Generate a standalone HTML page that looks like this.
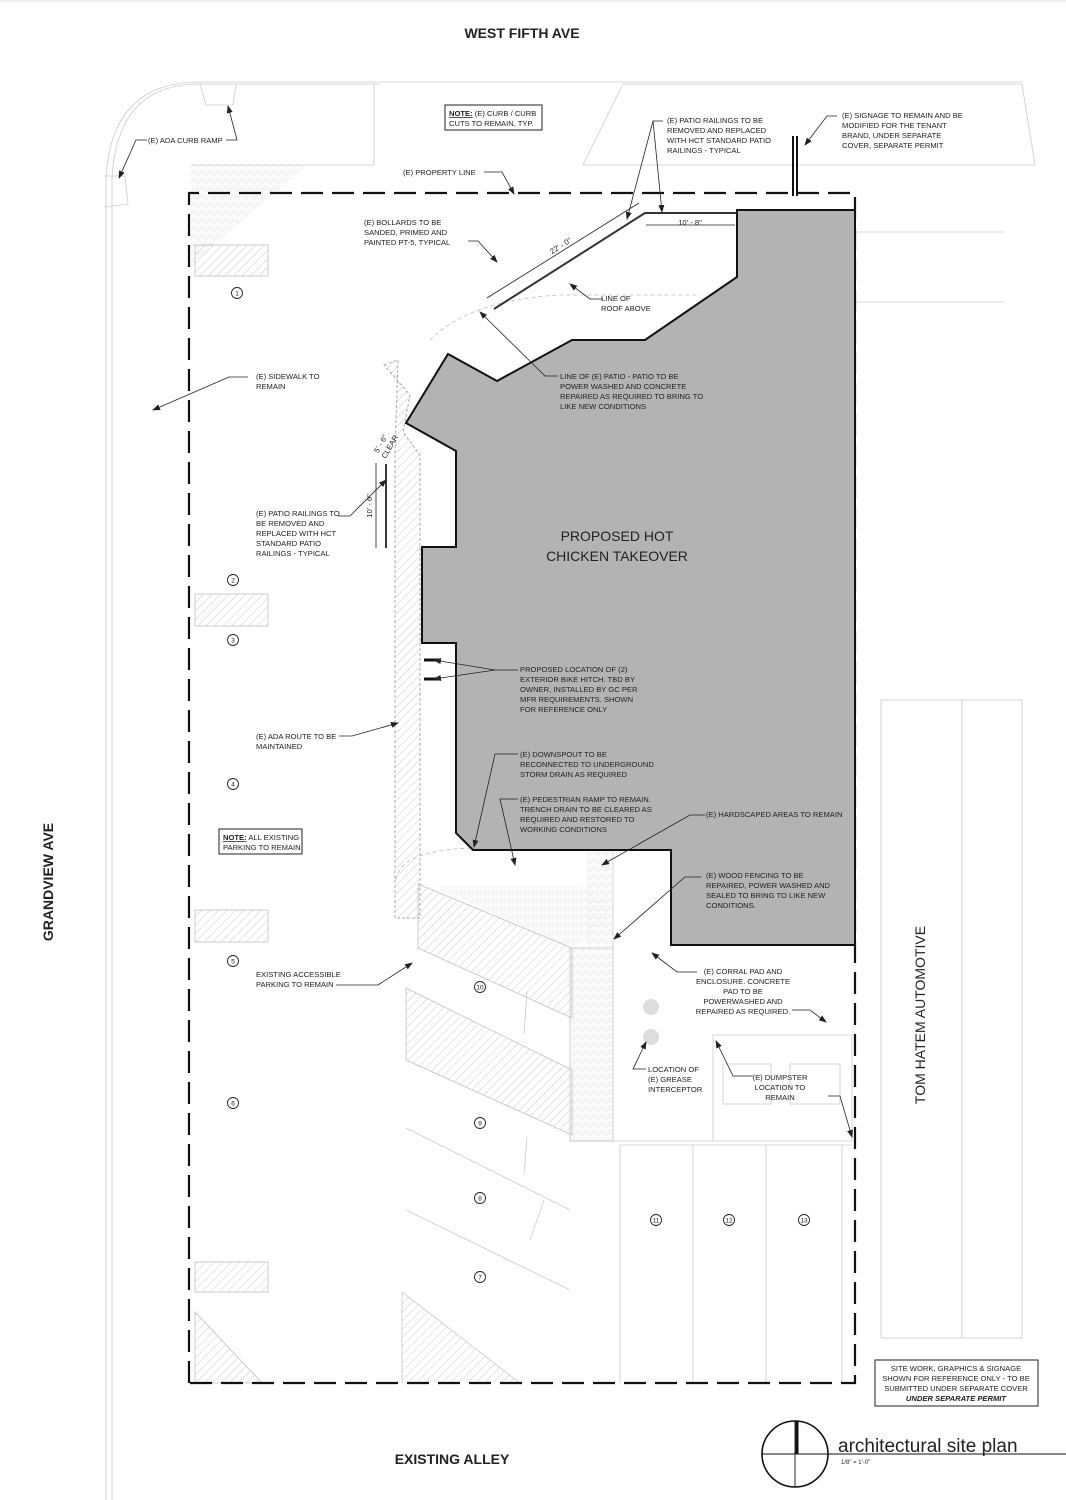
<!DOCTYPE html>
<html><head><meta charset="utf-8"><style>
html,body{margin:0;padding:0;background:#fff}
svg{display:block}
text{font-family:"Liberation Sans",sans-serif;fill:#222}
.s{font-size:7.6px}
.l{stroke:#222;stroke-width:0.8;fill:none}
.g{stroke:#ccc;stroke-width:0.8;fill:none}
.gd{stroke:#bbb;stroke-width:0.8;fill:none;stroke-dasharray:4 3}
.bg{fill:#fff}
</style></head><body>
<svg width="1066" height="1500" viewBox="0 0 1066 1500" xmlns="http://www.w3.org/2000/svg">
<defs>
<pattern id="h" width="6" height="6" patternUnits="userSpaceOnUse" patternTransform="rotate(45)"><line x1="0" y1="0" x2="0" y2="6" stroke="#bbb" stroke-width="0.8"/></pattern>
<pattern id="b" width="8" height="8" patternUnits="userSpaceOnUse"><path d="M0 2H4M0 4H4M0 6H4M6 0V4M5 4V8M7 4V8M4 0V0" stroke="#ddd" stroke-width="0.6"/></pattern>
<marker id="a" markerWidth="8" markerHeight="6" refX="7" refY="3" orient="auto" markerUnits="userSpaceOnUse"><path d="M0 0L8 3L0 6z" fill="#222"/></marker>
</defs>
<line x1="0" y1="1" x2="1066" y2="1" stroke="#ddd"/>
<text x="522" y="38" font-size="14" font-weight="bold" text-anchor="middle">WEST FIFTH AVE</text>
<text x="452" y="1464" font-size="14" font-weight="bold" text-anchor="middle">EXISTING ALLEY</text>
<text transform="translate(53,882) rotate(-90)" font-size="14" font-weight="bold" text-anchor="middle">GRANDVIEW AVE</text>
<text transform="translate(925,1015) rotate(-90)" font-size="14" text-anchor="middle">TOM HATEM AUTOMOTIVE</text>

<!-- streets / curbs -->
<path class="g" d="M1022 82H200Q110 82 106 180V1500"/>
<path class="g" d="M380 84H200Q116 84 112 180V1500"/>
<path class="g" d="M200 84L206 105H233L236 84"/>
<path class="g" d="M104 176H125L128 204L104 207"/>
<path class="g" d="M374 84V165H191"/>
<path class="g" d="M583 165L623 84H1022L1035 165Z"/>
<line class="g" x1="855" y1="232" x2="1004" y2="232"/>
<line class="g" x1="855" y1="302" x2="1004" y2="302"/>
<rect class="g" x="881" y="700" width="81" height="638"/>
<rect class="g" x="962" y="700" width="60" height="638"/>
<path fill="url(#b)" d="M191 165H307L191 265Z"/>
<!-- left stalls -->
<rect x="195" y="245" width="73" height="31" fill="url(#h)" stroke="#ccc"/>
<rect x="195" y="594" width="73" height="32" fill="url(#h)" stroke="#ccc"/>
<rect x="195" y="910" width="73" height="32" fill="url(#h)" stroke="#ccc"/>
<rect x="195" y="1262" width="73" height="30" fill="url(#h)" stroke="#ccc"/>
<path fill="url(#h)" stroke="#ccc" d="M195 1312L262 1383H195Z"/>
<!-- angled stalls -->
<path fill="url(#h)" stroke="#ccc" d="M418 884L572 948V1018L418 948Z"/>
<path fill="url(#h)" stroke="#ccc" d="M406 988L572 1070V1135L406 1060Z"/>
<path class="g" d="M406 1128L570 1210M406 1210L570 1290M402 1292L520 1383M402 1292V1383"/>
<path fill="url(#h)" d="M402 1292L520 1383H402Z"/>
<path class="g" d="M527 992L524 1034M527 1137L524 1175M544 1200L530 1240"/>
<!-- pavers -->
<rect x="570" y="948" width="43" height="193" fill="url(#b)" stroke="#ccc"/>
<rect x="586" y="850" width="27" height="98" fill="url(#b)"/>
<path fill="url(#b)" d="M438 886H580L610 905V915L575 948L438 890Z" opacity=".8"/>
<!-- ADA route hatch -->
<path fill="url(#h)" stroke="#aaa" stroke-dasharray="3 2" d="M384 365L398 360L395 450V918H420V455L403 432L410 395Z"/>
<path class="gd" d="M396 880Q400 850 472 848M430 340Q470 300 560 295H700"/>
<!-- corral -->
<path class="g" d="M613 850V1141H713V1035H852V1141H613"/>
<path class="g" d="M620 1145H852M620 1145V1383M693 1145V1383M766 1145V1383M842 1145V1383"/>
<circle cx="651" cy="1007" r="8" fill="#ddd"/><circle cx="651" cy="1037" r="8" fill="#ddd"/>
<rect class="g" x="723" y="1064" width="48" height="40"/><rect class="g" x="790" y="1064" width="50" height="40"/>
<!-- property line -->
<path d="M189 1383V193H855V1383H189" fill="none" stroke="#111" stroke-width="2.2" stroke-dasharray="22 9"/>
<!-- building -->
<path d="M737 210H855V945H671V850H473L456 833V643H422V547H456V451L406 423L448 354L497 381L572 340H645L737 277Z" fill="#b3b3b3" stroke="#111" stroke-width="2"/>
<text x="617" y="541" font-size="14" text-anchor="middle">PROPOSED HOT</text>
<text x="617" y="561" font-size="14" text-anchor="middle">CHICKEN TAKEOVER</text>
<!-- railings -->
<path d="M494 309L645 213H737" stroke="#333" stroke-width="2" fill="none"/>
<path class="l" d="M487 298L639 203M646 225H735"/>
<text transform="translate(562,248) rotate(-32)" class="s" text-anchor="middle">22' - 0"</text>
<text x="690" y="225" class="s" text-anchor="middle">10' - 8"</text>
<line x1="386" y1="464" x2="386" y2="548" stroke="#222" stroke-width="1.8"/>
<line class="l" x1="376" y1="463" x2="376" y2="548"/>
<text transform="translate(372,506) rotate(-90)" class="s" text-anchor="middle">10' - 6"</text>
<text transform="translate(383,445) rotate(-60)" class="s" text-anchor="middle">5' - 6"</text>
<text transform="translate(392,448) rotate(-60)" class="s" text-anchor="middle">CLEAR</text>
<path d="M797 136V196M793 136V196" stroke="#111" stroke-width="2"/>
<path d="M424 660H440M424 679H440" stroke="#111" stroke-width="3"/>
<!-- number circles -->
<g font-size="7" text-anchor="middle" fill="none" stroke="#222" stroke-width="0.9">
<circle cx="237" cy="293" r="5.5"/><circle cx="233" cy="580" r="5.5"/><circle cx="233" cy="640" r="5.5"/><circle cx="233" cy="784" r="5.5"/><circle cx="233" cy="961" r="5.5"/><circle cx="233" cy="1103" r="5.5"/>
<circle cx="480" cy="987" r="5.5"/><circle cx="480" cy="1123" r="5.5"/><circle cx="480" cy="1198" r="5.5"/><circle cx="480" cy="1277" r="5.5"/>
<circle cx="656" cy="1220" r="5.5"/><circle cx="729" cy="1220" r="5.5"/><circle cx="804" cy="1220" r="5.5"/>
</g>
<g font-size="6.5" text-anchor="middle">
<text x="237" y="295.5">1</text><text x="233" y="582.5">2</text><text x="233" y="642.5">3</text><text x="233" y="786.5">4</text><text x="233" y="963.5">5</text><text x="233" y="1105.5">6</text>
<text x="480" y="989.5">10</text><text x="480" y="1125.5">9</text><text x="480" y="1200.5">8</text><text x="480" y="1279.5">7</text>
<text x="656" y="1222.5">11</text><text x="729" y="1222.5">12</text><text x="804" y="1222.5">13</text>
</g>
<!-- leaders -->
<g class="l" marker-end="url(#a)">
<path d="M147 140H136L119 178"/><path d="M226 140H237L228 106"/>
<path d="M484 172H502L514 194"/>
<path d="M468 241H478L497 262"/>
<path d="M663 121H653L627 219"/><path d="M653 121L662 212"/>
<path d="M837 116H827L805 145"/>
<path d="M603 299H590L570 284"/>
<path d="M558 376H545L480 312"/>
<path d="M248 377H229L153 410"/>
<path d="M338 516H350L386 480"/>
<path d="M518 670H495L434 660"/><path d="M495 670L434 679"/>
<path d="M339 736H352L398 723"/>
<path d="M518 754H495L474 847"/>
<path d="M518 799H500L515 865"/>
<path d="M705 815H690L602 865"/>
<path d="M701 877H685L614 939"/>
<path d="M697 972H677L652 953"/>
<path d="M792 1010H810L826 1022"/>
<path d="M646 1069H633L646 1042"/>
<path d="M753 1076H733L716 1041"/>
<path d="M828 1096H840L852 1137"/>
<path d="M336 985H378L412 963"/>
</g>
<!-- labels -->
<g class="s">
<text x="148" y="143">(E) ADA CURB RAMP</text>
<text x="403" y="175">(E) PROPERTY LINE</text>
<text x="364" y="225">(E) BOLLARDS TO BE</text><text x="364" y="235">SANDED, PRIMED AND</text><text x="364" y="245">PAINTED PT-5, TYPICAL</text>
<text x="667" y="123">(E) PATIO RAILINGS TO BE</text><text x="667" y="133">REMOVED AND REPLACED</text><text x="667" y="143">WITH HCT STANDARD PATIO</text><text x="667" y="153">RAILINGS - TYPICAL</text>
<text x="842" y="118">(E) SIGNAGE TO REMAIN AND BE</text><text x="842" y="128">MODIFIED FOR THE TENANT</text><text x="842" y="138">BRAND, UNDER SEPARATE</text><text x="842" y="148">COVER, SEPARATE PERMIT</text>
<text x="601" y="301">LINE OF</text><text x="601" y="311">ROOF ABOVE</text>
<text x="560" y="379">LINE OF (E) PATIO - PATIO TO BE</text><text x="560" y="389">POWER WASHED AND CONCRETE</text><text x="560" y="399">REPAIRED AS REQUIRED TO BRING TO</text><text x="560" y="409">LIKE NEW CONDITIONS</text>
<text x="256" y="379">(E) SIDEWALK TO</text><text x="256" y="389">REMAIN</text>
<text x="256" y="516">(E) PATIO RAILINGS TO</text><text x="256" y="526">BE REMOVED AND</text><text x="256" y="536">REPLACED WITH HCT</text><text x="256" y="546">STANDARD PATIO</text><text x="256" y="556">RAILINGS - TYPICAL</text>
<text x="520" y="672">PROPOSED LOCATION OF (2)</text><text x="520" y="682">EXTERIOR BIKE HITCH. TBD BY</text><text x="520" y="692">OWNER, INSTALLED BY GC PER</text><text x="520" y="702">MFR REQUIREMENTS. SHOWN</text><text x="520" y="712">FOR REFERENCE ONLY</text>
<text x="256" y="739">(E) ADA ROUTE TO BE</text><text x="256" y="749">MAINTAINED</text>
<text x="520" y="757">(E) DOWNSPOUT TO BE</text><text x="520" y="767">RECONNECTED TO UNDERGROUND</text><text x="520" y="777">STORM DRAIN AS REQUIRED</text>
<text x="520" y="802">(E) PEDESTRIAN RAMP TO REMAIN.</text><text x="520" y="812">TRENCH DRAIN TO BE CLEARED AS</text><text x="520" y="822">REQUIRED AND RESTORED TO</text><text x="520" y="832">WORKING CONDITIONS</text>
<text x="706" y="817">(E) HARDSCAPED AREAS TO REMAIN</text>
<text x="706" y="878">(E) WOOD FENCING TO BE</text><text x="706" y="888">REPAIRED, POWER WASHED AND</text><text x="706" y="898">SEALED TO BRING TO LIKE NEW</text><text x="706" y="908">CONDITIONS.</text>
<g text-anchor="middle"><text x="743" y="974">(E) CORRAL PAD AND</text><text x="743" y="984">ENCLOSURE.  CONCRETE</text><text x="743" y="994">PAD TO BE</text><text x="743" y="1004">POWERWASHED AND</text><text x="743" y="1014">REPAIRED AS REQUIRED.</text>
<text x="780" y="1080">(E) DUMPSTER</text><text x="780" y="1090">LOCATION TO</text><text x="780" y="1100">REMAIN</text></g>
<text x="648" y="1072">LOCATION OF</text><text x="648" y="1082">(E) GREASE</text><text x="648" y="1092">INTERCEPTOR</text>
<text x="256" y="977">EXISTING ACCESSIBLE</text><text x="256" y="987">PARKING TO REMAIN</text>
</g>
<!-- notes -->
<rect x="445" y="105" width="97" height="25" fill="#fff" stroke="#222"/>
<text x="449" y="116" class="s"><tspan font-weight="bold" text-decoration="underline">NOTE:</tspan> (E) CURB / CURB</text><text x="449" y="126" class="s">CUTS TO REMAIN, TYP.</text>
<rect x="219" y="829" width="83" height="25" fill="#fff" stroke="#222"/>
<text x="223" y="840" class="s"><tspan font-weight="bold" text-decoration="underline">NOTE:</tspan> ALL EXISTING</text><text x="223" y="850" class="s">PARKING TO REMAIN</text>
<rect x="875" y="1360" width="163" height="46" fill="#fff" stroke="#222"/>
<g class="s" text-anchor="middle"><text x="956" y="1371">SITE WORK, GRAPHICS &amp; SIGNAGE</text><text x="956" y="1381">SHOWN FOR REFERENCE ONLY -  TO BE</text><text x="956" y="1391">SUBMITTED UNDER SEPARATE COVER</text><text x="956" y="1401" font-weight="bold" font-style="italic">UNDER SEPARATE PERMIT</text></g>
<!-- title -->
<circle cx="795" cy="1454" r="33" fill="none" stroke="#111" stroke-width="1.6"/>
<line x1="762" y1="1454" x2="1066" y2="1454" stroke="#111" stroke-width="0.9"/>
<line x1="795" y1="1421" x2="795" y2="1487" stroke="#111" stroke-width="0.9"/>
<line x1="797" y1="1421" x2="797" y2="1454" stroke="#111" stroke-width="3"/>
<text x="838" y="1452" font-size="19">architectural site plan</text>
<text x="841" y="1464" font-size="6">1/8" = 1'-0"</text>
</svg>
</body></html>
